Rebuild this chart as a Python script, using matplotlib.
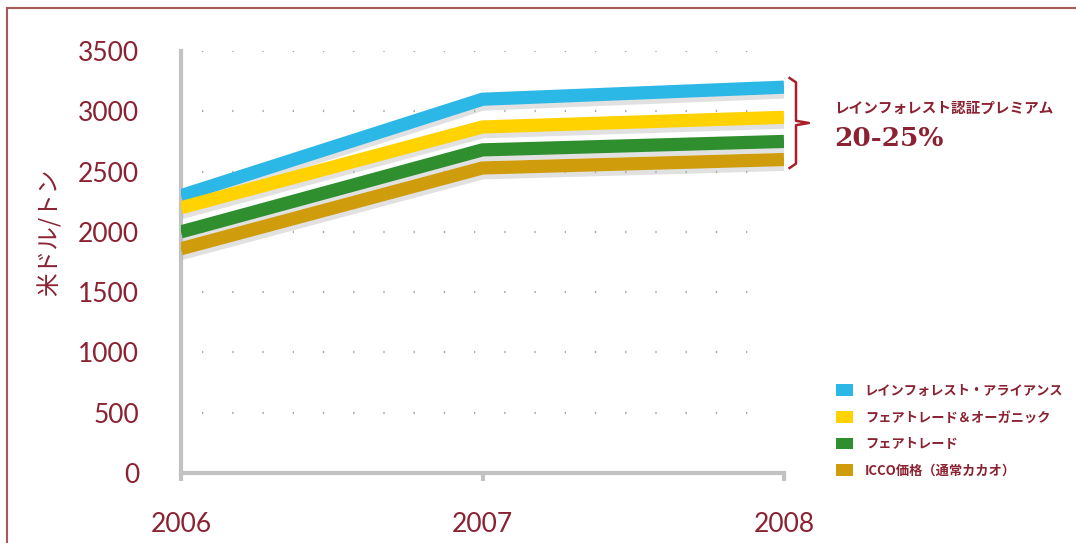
import numpy as np
import matplotlib.pyplot as plt
import matplotlib.patheffects as pe
from matplotlib.patches import Patch
from matplotlib.lines import Line2D

plt.rcParams['font.family'] = ['Lato', 'Noto Sans CJK JP', 'DejaVu Sans']

# data (USD / ton)
years = [2006, 2007, 2008]
rainforest = [2300, 3100, 3200]
fair_organic = [2200, 2870, 2950]
fairtrade = [2000, 2680, 2750]
icco = [1860, 2530, 2600]

series = [
    ('レインフォレスト・アライアンス', rainforest, '#2bb8e6'),
    ('フェアトレード＆オーガニック', fair_organic, '#ffd200'),
    ('フェアトレード', fairtrade, '#2f8f2f'),
    ('ICCO価格（通常カカオ）', icco, '#cf9c0c'),
]
yticks = [0, 500, 1000, 1500, 2000, 2500, 3000, 3500]

red = '#8a2232'
gray = '#c2c2c2'

fig = plt.figure(figsize=(10.76, 5.43), dpi=100)
ax = fig.add_axes([181 / 1076, 70 / 543, 603 / 1076, 422 / 543])

# dotted grid rows
for v in yticks[1:]:
    ax.plot([2006.07, 2007.95], [v, v], color='#a8a8a8', lw=1.6,
            linestyle=(0, (0.6, 13.0)), zorder=1)

for name, vals, col in series:
    ax.plot(years, vals, color=col, lw=9.5, solid_capstyle='butt',
            solid_joinstyle='miter', zorder=3,
            path_effects=[pe.SimpleLineShadow(offset=(0, -3.5), shadow_color='#b4b4b4', alpha=0.4),
                          pe.Normal()])

ax.set_xlim(2006, 2008)
ax.set_ylim(0, 3500)
ax.set_xticks(years)
ax.set_xticklabels([str(y) for y in years])
ax.set_yticks(yticks)
ax.set_yticklabels([str(v) for v in yticks])

for s in ['top', 'right']:
    ax.spines[s].set_visible(False)
for s in ['left', 'bottom']:
    ax.spines[s].set_color(gray)
    ax.spines[s].set_linewidth(3)
ax.tick_params(axis='x', colors=gray, length=6, width=3, pad=22, labelsize=19, labelcolor=red)
ax.tick_params(axis='y', length=0, pad=30, labelsize=19, labelcolor=red)

fig.text(50 / 1076, 1 - 232 / 543, '米ドル/トン', rotation=90, color=red, fontsize=17,
         ha='center', va='center', family=['Noto Sans CJK JP'])

# bracket
bx = 796 / 1076
ytop, ybot, ymid = 1 - 78 / 543, 1 - 168 / 543, 1 - 123 / 543
fig.add_artist(Line2D([bx - 0.006, bx, bx, bx + 0.012, bx, bx, bx - 0.006],
                      [ytop, ytop - 0.008, ymid + 0.004, ymid, ymid - 0.004, ybot + 0.008, ybot],
                      color='#a81e2a', lw=1.8))
fig.text(834 / 1076, 1 - 108 / 543, 'レインフォレスト認証プレミアム', color=red, fontsize=10.5,
         fontweight='bold', va='center', family=['Noto Sans CJK JP'])
fig.text(834 / 1076, 1 - 138 / 543, '20-25%', color=red, fontsize=19, fontweight='bold',
         va='center', family=['DejaVu Serif'])

handles = [Patch(facecolor=c, edgecolor='none') for _, _, c in series]
labels = [n for n, _, _ in series]
leg = fig.legend(handles, labels, loc='upper left', bbox_to_anchor=(824 / 1076, 1 - 372 / 543),
                 frameon=False, handlelength=1.3, handleheight=1.0, handletextpad=0.9,
                 labelspacing=0.95, prop={'family': ['Noto Sans CJK JP'], 'weight': 'bold', 'size': 9.5})
for t in leg.get_texts():
    t.set_color(red)

# frame border (left and top only)
fig.add_artist(Line2D([7 / 1076, 7 / 1076], [0, 1 - 8 / 543], color='#a85a5a', lw=1.5))
fig.add_artist(Line2D([7 / 1076, 1], [1 - 8 / 543, 1 - 8 / 543], color='#a85a5a', lw=1.5))

fig.savefig('out.png', dpi=100)
